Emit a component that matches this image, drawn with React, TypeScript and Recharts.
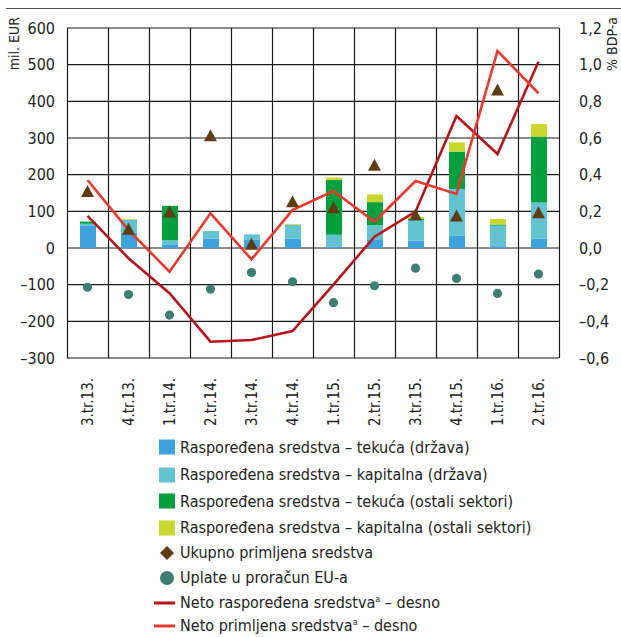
import { ComposedChart, Bar, Line, Scatter, XAxis, YAxis, CartesianGrid, Legend } from 'recharts';

const categories = ['3.tr.13.', '4.tr.13.', '1.tr.14.', '2.tr.14.', '3.tr.14.', '4.tr.14.', '1.tr.15.', '2.tr.15.', '3.tr.15.', '4.tr.15.', '1.tr.16.', '2.tr.16.'];
const tekucaDrzava = [60, 42, 10, 25, 22, 25, 3, 24, 20, 33, 5, 25];
const kapitalnaDrzava = [6, 35, 11, 20, 15, 38, 33, 38, 56, 128, 56, 99];
const tekucaOstali = [6, 0, 94, 1, 0, 0, 150, 63, 3, 102, 3, 180];
const kapitalnaOstali = [0, 2, 0, 0, 0, 2, 6, 21, 6, 25, 15, 34];
const ukupnoPrimljena = [154, 51, 98, 306, 10, 126, 110, 226, 90, 87, 431, 96];
const uplateEU = [-107, -127, -183, -112, -67, -92, -149, -103, -55, -83, -124, -71];
const netoRasporedena = [0.175, -0.056, -0.247, -0.511, -0.502, -0.453, -0.2, 0.062, 0.198, 0.72, 0.513, 1.016];
const netoPrimljena = [0.371, 0.098, -0.129, 0.189, -0.062, 0.207, 0.311, 0.143, 0.365, 0.295, 1.075, 0.844];

const leftTicks = [-300, -200, -100, 0, 100, 200, 300, 400, 500, 600];
const rightTicks = [-0.6, -0.4, -0.2, 0, 0.2, 0.4, 0.6, 0.8, 1.0, 1.2];

const FONT = "'Liberation Sans Narrow', 'DejaVu Sans Condensed', 'Roboto', sans-serif";

const C = {
  blue: '#3fa2dd',
  lightBlue: '#63c3d1',
  green: '#00a03e',
  yellow: '#c9d62d',
  brown: '#5e3c14',
  teal: '#3e7d72',
  darkRed: '#b5151d',
  red: '#e83a30',
};

const data = categories.map((name, i) => ({
  name,
  tekucaDrzava: tekucaDrzava[i],
  kapitalnaDrzava: kapitalnaDrzava[i],
  tekucaOstali: tekucaOstali[i],
  kapitalnaOstali: kapitalnaOstali[i],
  ukupno: ukupnoPrimljena[i],
  uplate: uplateEU[i],
  netoRasporedena: netoRasporedena[i],
  netoPrimljena: netoPrimljena[i],
}));

const fmtLeft = (v: number) => (v < 0 ? '–' + Math.abs(v) : String(v));
const fmtRight = (v: number) => (v < 0 ? '–' : '') + Math.abs(v).toFixed(1).replace('.', ',');

const XTick = ({ x, y, payload }: any) => (
  <text
    x={x}
    y={y + 12}
    transform={`rotate(-90, ${x}, ${y + 12})`}
    textAnchor="end"
    dy="0.35em"
    fontSize={15}
    fontFamily={FONT}
    fill="#222"
  >
    {payload.value}
  </text>
);

const Triangle = ({ cx, cy }: any) => {
  if (cx == null || cy == null) return null;
  return <polygon points={`${cx},${cy - 6.5} ${cx + 6.5},${cy + 5.5} ${cx - 6.5},${cy + 5.5}`} fill={C.brown} />;
};

const Dot = ({ cx, cy }: any) => {
  if (cx == null || cy == null) return null;
  return <circle cx={cx} cy={cy} r={4.6} fill={C.teal} />;
};

const legendItems = [
  { label: 'Raspoređena sredstva – tekuća (država)', kind: 'square', color: C.blue },
  { label: 'Raspoređena sredstva – kapitalna (država)', kind: 'square', color: C.lightBlue },
  { label: 'Raspoređena sredstva – tekuća (ostali sektori)', kind: 'square', color: C.green },
  { label: 'Raspoređena sredstva – kapitalna (ostali sektori)', kind: 'square', color: C.yellow },
  { label: 'Ukupno primljena sredstva', kind: 'diamond', color: C.brown },
  { label: 'Uplate u proračun EU-a', kind: 'circle', color: C.teal },
  { label: 'Neto raspoređena sredstva', sup: 'a', rest: ' – desno', kind: 'line', color: C.darkRed },
  { label: 'Neto primljena sredstva', sup: 'a', rest: ' – desno', kind: 'line', color: C.red },
];
const rowHeights = [28, 27, 26, 27, 23, 27, 23, 23];

const LegendContent = () => (
  <div style={{ fontFamily: FONT, fontSize: 16, color: '#222' }}>
    {legendItems.map((it, i) => (
      <div key={i} style={{ display: 'flex', alignItems: 'center', height: rowHeights[i] }}>
        <svg width={24} height={18} style={{ marginRight: 3 }}>
          {it.kind === 'square' && <rect x={6} y={1.5} width={16} height={15} fill={it.color} />}
          {it.kind === 'diamond' && <polygon points="14,2 21,9 14,16 7,9" fill={it.color} />}
          {it.kind === 'circle' && <circle cx={14} cy={9} r={7} fill={it.color} />}
          {it.kind === 'line' && <line x1={1} y1={9} x2={22} y2={9} stroke={it.color} strokeWidth={3} />}
        </svg>
        <span>
          {it.label}
          {it.sup && <sup style={{ fontSize: 9 }}>{it.sup}</sup>}
          {it.rest}
        </span>
      </div>
    ))}
  </div>
);

const App = () => {
  return (
    <div style={{ position: 'absolute', left: 0, top: 0, width: 621, height: 637, background: '#fff' }}>
      <div style={{ position: 'absolute', left: 6, top: 8, width: 615, borderTop: '1.5px solid #555' }} />
      <div
        style={{
          position: 'absolute', left: 6, top: 17, fontFamily: FONT, fontSize: 14, color: '#222',
          writingMode: 'vertical-rl', transform: 'rotate(180deg)', whiteSpace: 'nowrap',
        }}
      >
        mil. EUR
      </div>
      <div
        style={{
          position: 'absolute', left: 604, top: 17, fontFamily: FONT, fontSize: 14, color: '#222',
          writingMode: 'vertical-rl', transform: 'rotate(180deg)', whiteSpace: 'nowrap',
        }}
      >
        % BDP-a
      </div>
      <ComposedChart
        width={621}
        height={637}
        data={data}
        margin={{ top: 28, right: 6, bottom: 219, left: 8 }}
        barCategoryGap={0}
      >
        <CartesianGrid
          yAxisId="left"
          stroke="#1a1a1a"
          strokeWidth={1.2}
          horizontalValues={leftTicks}
          verticalCoordinatesGenerator={({ offset }: any) =>
            categories.concat(['']).map((_, i) => offset.left + (i * offset.width) / categories.length + 0.5)
          }
        />
        <XAxis dataKey="name" tick={<XTick />} tickLine={false} axisLine={false} height={60} interval={0} />
        <YAxis
          yAxisId="left"
          domain={[-300, 600]}
          ticks={leftTicks}
          tickFormatter={fmtLeft}
          width={59}
          tickLine={false}
          axisLine={false}
          tick={{ fontSize: 16, fontFamily: FONT, fill: '#222' }}
          tickMargin={6}
          interval={0}
        />
        <YAxis
          yAxisId="right"
          orientation="right"
          domain={[-0.6, 1.2]}
          ticks={rightTicks}
          tickFormatter={fmtRight}
          width={56}
          tickLine={false}
          axisLine={false}
          tick={{ fontSize: 16, fontFamily: FONT, fill: '#222' }}
          tickMargin={14}
          interval={0}
        />
        <Bar yAxisId="left" dataKey="tekucaDrzava" stackId="a" fill={C.blue} barSize={16} isAnimationActive={false} />
        <Bar yAxisId="left" dataKey="kapitalnaDrzava" stackId="a" fill={C.lightBlue} barSize={16} isAnimationActive={false} />
        <Bar yAxisId="left" dataKey="tekucaOstali" stackId="a" fill={C.green} barSize={16} isAnimationActive={false} />
        <Bar yAxisId="left" dataKey="kapitalnaOstali" stackId="a" fill={C.yellow} barSize={16} isAnimationActive={false} />
        <Line yAxisId="right" dataKey="netoRasporedena" stroke={C.darkRed} strokeWidth={2.6} dot={false} type="linear" isAnimationActive={false} />
        <Line yAxisId="right" dataKey="netoPrimljena" stroke={C.red} strokeWidth={2.6} dot={false} type="linear" isAnimationActive={false} />
        <Scatter yAxisId="left" dataKey="ukupno" shape={<Triangle />} isAnimationActive={false} />
        <Scatter yAxisId="left" dataKey="uplate" shape={<Dot />} isAnimationActive={false} />
        <Legend
          verticalAlign="middle"
          layout="horizontal"
          content={<LegendContent />}
          wrapperStyle={{ top: 433, left: 153, width: 420, bottom: 'auto', right: 'auto' }}
        />
      </ComposedChart>
    </div>
  );
};

export default App;
